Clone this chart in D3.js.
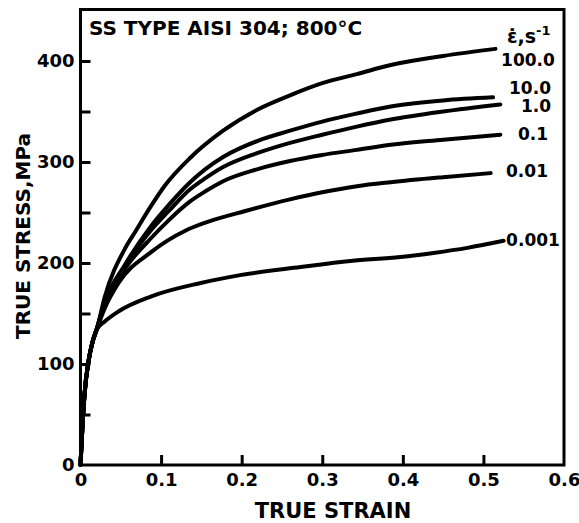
<!DOCTYPE html>
<html>
<head>
<meta charset="utf-8">
<script src="https://cdn.jsdelivr.net/npm/d3@7"></script>
<style>
  body { margin: 0; background: #fff; }
  text { font-family: "DejaVu Sans", sans-serif; font-weight: bold; fill: #000; }
</style>
</head>
<body>
<div id="chart"></div>
<script>
// strain rates (legend labels) and the curves: [true strain, true stress MPa]
const rates = ["100.0", "10.0", "1.0", "0.1", "0.01", "0.001"];

const start = [[0, 0], [0.002, 32], [0.005, 70], [0.01, 103], [0.015, 122], [0.02, 134]];

const rate100 = [[0.03, 166], [0.055, 214], [0.068, 231], [0.088, 257], [0.105, 277], [0.136, 304],
  [0.177, 331], [0.22, 352], [0.26, 366], [0.30, 378], [0.343, 387], [0.385, 396], [0.45, 405], [0.515, 412]];
const rate10 = [[0.03, 161], [0.055, 198], [0.088, 237], [0.109, 257], [0.136, 280], [0.155, 293],
  [0.177, 305], [0.22, 321], [0.26, 331], [0.30, 340], [0.343, 348], [0.385, 355], [0.45, 361], [0.512, 364]];
const rate1 = [[0.03, 160], [0.055, 197], [0.088, 233], [0.109, 251], [0.136, 273], [0.155, 284],
  [0.177, 295], [0.22, 309], [0.26, 319], [0.30, 327], [0.343, 335], [0.385, 342], [0.45, 350], [0.521, 357]];
const rate01 = [[0.03, 158], [0.055, 194], [0.088, 225], [0.109, 242], [0.136, 261], [0.155, 271],
  [0.177, 281], [0.22, 293], [0.26, 301], [0.30, 307], [0.343, 312], [0.385, 317], [0.45, 322], [0.521, 327]];
const rate001 = [[0.03, 155], [0.047, 180], [0.088, 211], [0.13, 232], [0.155, 240], [0.207, 252],
  [0.26, 263], [0.30, 270], [0.343, 276], [0.385, 280], [0.45, 285], [0.509, 289]];
const rate0001 = [[0.03, 142], [0.047, 152], [0.088, 167], [0.148, 180], [0.198, 188], [0.273, 196],
  [0.335, 202], [0.397, 206], [0.438, 210], [0.48, 215], [0.525, 222]];

const curves = [rate100, rate10, rate1, rate01, rate001, rate0001];

const xTicks = [0, 0.1, 0.2, 0.3, 0.4, 0.5, 0.6];
const xTickLabels = ["0", "0.1", "0.2", "0.3", "0.4", "0.5", "0.6"];
const yTicks = [0, 100, 200, 300, 400];
const yMinorTicks = [50, 150, 250, 350];

const width = 579;
const height = 523;
const m = { left: 80.5, right: 564, top: 9.5, bottom: 465 };

const svg = d3.select("#chart").append("svg")
  .attr("width", width)
  .attr("height", height);

svg.append("rect").attr("width", width).attr("height", height).attr("fill", "#fff");

const x = d3.scaleLinear().domain([0, 0.6]).range([m.left, m.right]);
const y = d3.scaleLinear().domain([0, 450]).range([m.bottom, m.top + 1]);

// frame
svg.append("rect")
  .attr("x", m.left).attr("y", m.top)
  .attr("width", m.right - m.left).attr("height", m.bottom - m.top)
  .attr("fill", "none").attr("stroke", "#000").attr("stroke-width", 3);

// y axis: ticks point inward
const yAxis = svg.append("g")
  .attr("transform", `translate(${m.left},0)`)
  .call(d3.axisLeft(y).tickValues(yTicks).tickSize(-10).tickPadding(6).tickFormat(d3.format("d")));
const yMinor = svg.append("g")
  .attr("transform", `translate(${m.left},0)`)
  .call(d3.axisLeft(y).tickValues(yMinorTicks).tickSize(-10).tickFormat(""));

const xAxis = svg.append("g")
  .attr("transform", `translate(0,${m.bottom})`)
  .call(d3.axisBottom(x).tickValues(xTicks).tickSize(-10).tickPadding(8)
    .tickFormat((d, i) => xTickLabels[i]));

[yAxis, yMinor, xAxis].forEach(g => {
  g.select(".domain").remove();
  g.selectAll("line").attr("stroke", "#000").attr("stroke-width", 3);
  g.selectAll("text").attr("font-family", "DejaVu Sans").attr("font-weight", "bold")
    .attr("font-size", 18).attr("fill", "#000");
});
xAxis.selectAll(".tick").filter(d => d === 0 || d === 0.6).select("line").remove();
yAxis.selectAll(".tick").filter(d => d === 0).select("line").remove();

// curves
const line = d3.line()
  .x(d => x(d[0]))
  .y(d => y(d[1]))
  .curve(d3.curveMonotoneX);

svg.append("g").selectAll("path")
  .data(curves)
  .join("path")
  .attr("d", d => line(start.concat(d)))
  .attr("fill", "none")
  .attr("stroke", "#000")
  .attr("stroke-width", 4)
  .attr("stroke-linecap", "round")
  .attr("stroke-linejoin", "round");

// curve labels
const labelX = [528, 530, 536, 533, 527, 533];
const labelY = [60, 88, 106, 134, 171, 240];
svg.append("g").selectAll("text")
  .data(rates)
  .join("text")
  .attr("x", (d, i) => labelX[i])
  .attr("y", (d, i) => labelY[i])
  .attr("dy", "0.36em")
  .attr("text-anchor", "middle")
  .attr("font-size", 17)
  .text(d => d);

const head = svg.append("text")
  .attr("x", 507).attr("y", 43)
  .attr("font-size", 19);
head.append("tspan").text("\u03B5\u0307,s");
head.append("tspan").attr("dy", -8).attr("font-size", 13).text("-1");

// title and axis titles
svg.append("text")
  .attr("x", 89).attr("y", 35)
  .attr("font-size", 20)
  .text("SS TYPE AISI 304; 800°C");

svg.append("text")
  .attr("x", 333).attr("y", 518)
  .attr("text-anchor", "middle")
  .attr("font-size", 21)
  .text("TRUE STRAIN");

svg.append("text")
  .attr("transform", `translate(30,236) rotate(-90)`)
  .attr("text-anchor", "middle")
  .attr("font-size", 20)
  .text("TRUE STRESS,MPa");
</script>
</body>
</html>
